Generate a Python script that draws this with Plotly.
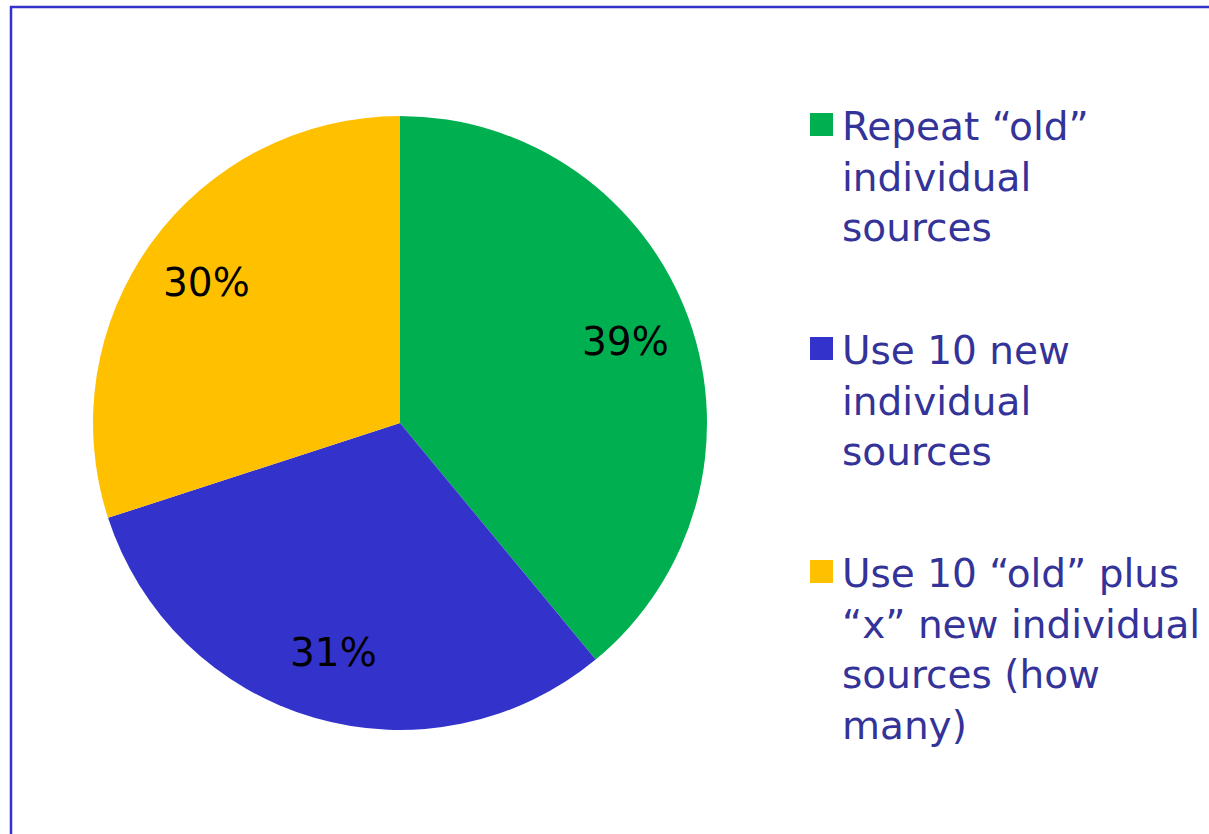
import math
import plotly.graph_objects as go

# Survey responses: how individual sources should be chosen
categories = [
    "Repeat “old”<br>individual<br>sources",
    "Use 10 new<br>individual<br>sources",
    "Use 10 “old” plus<br>“x” new individual<br>sources (how<br>many)",
]
shares = [39, 31, 30]
colors = ["#00B050", "#3333CC", "#FFC000"]

W, H = 1209, 834
FONT = "DejaVu Sans, Arial, sans-serif"

# Pie placement (pixels)
cx_px, cy_px, r_px = 400, 423, 307

fig = go.Figure(
    go.Pie(
        labels=categories,
        values=shares,
        marker=dict(colors=colors, line=dict(width=0)),
        sort=False,
        direction="clockwise",
        rotation=0,
        textinfo="none",
        domain=dict(
            x=[(cx_px - r_px) / W, (cx_px + r_px) / W],
            y=[(H - cy_px - r_px) / H, (H - cy_px + r_px) / H],
        ),
        showlegend=False,
        hoverinfo="label+percent",
    )
)

annotations = []
shapes = []

# Percentage labels placed along each slice's bisector
total = sum(shares)
cum = 0
for v in shares:
    mid = (cum + v / 2) / total * 2 * math.pi
    cum += v
    x = cx_px + 0.78 * r_px * math.sin(mid)
    y = cy_px - 0.78 * r_px * math.cos(mid)
    annotations.append(
        dict(
            x=x / W, y=1 - y / H, xref="paper", yref="paper",
            xanchor="center", yanchor="middle", showarrow=False,
            text=f"{v}%",
            font=dict(family=FONT, size=39, color="#000000"),
        )
    )

# Legend drawn as coloured squares with wrapped text
legend_x = 840 / W
item_tops = [102, 326, 549]
for label, color, top in zip(categories, colors, item_tops):
    annotations.append(
        dict(
            x=legend_x, y=1 - top / H, xref="paper", yref="paper",
            xanchor="left", yanchor="top", align="left", showarrow=False,
            text=label,
            font=dict(family=FONT, size=39, color="#333399"),
        )
    )
    shapes.append(
        dict(
            type="rect", xref="paper", yref="paper",
            x0=810 / W, x1=833 / W, y0=1 - (top + 34) / H, y1=1 - (top + 11) / H,
            fillcolor=color, line=dict(width=0),
        )
    )

# Frame along the top and left edges
shapes.append(
    dict(
        type="path", xref="paper", yref="paper",
        path=f"M {11 / W},0 L {11 / W},{1 - 7 / H} L 1,{1 - 7 / H}",
        line=dict(color="#3333CC", width=2.5),
    )
)

fig.update_layout(
    width=W, height=H,
    margin=dict(l=0, r=0, t=0, b=0),
    paper_bgcolor="#FFFFFF",
    plot_bgcolor="#FFFFFF",
    annotations=annotations,
    shapes=shapes,
)

fig.write_html("out.html")
